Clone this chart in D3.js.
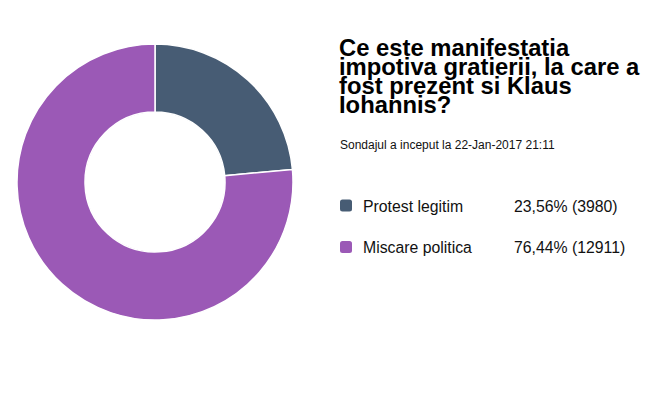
<!DOCTYPE html>
<html>
<head>
<meta charset="utf-8">
<script src="https://cdn.jsdelivr.net/npm/d3@7"></script>
<style>
  body { margin: 0; background: #fff; }
  text { font-family: "Liberation Sans", Arial, sans-serif; }
</style>
</head>
<body>
<div id="chart"></div>
<script>
// poll answers
const answers = ['Protest legitim', 'Miscare politica'];
const votes = [3980, 12911];
const colors = ['#475c74', '#9b59b6'];

const titleLines = ['Ce este manifestatia', 'impotiva gratierii, la care a', 'fost prezent si Klaus', 'Iohannis?'];
const subtitle = 'Sondajul a inceput la 22-Jan-2017 21:11';

const width = 671;
const height = 395;

const svg = d3.select('#chart')
  .append('svg')
  .attr('width', width)
  .attr('height', height);

// donut
const data = answers.map((a, i) => ({ name: a, value: votes[i], color: colors[i] }));
const total = d3.sum(votes);

const pie = d3.pie().value(d => d.value).sort(null);
const arc = d3.arc().innerRadius(70).outerRadius(138);

const donut = svg.append('g')
  .attr('transform', 'translate(155, 182)');

donut.selectAll('path')
  .data(pie(data))
  .join('path')
  .attr('d', arc)
  .attr('fill', d => d.data.color)
  .attr('stroke', '#fff')
  .attr('stroke-width', 1.5);

// title - tight line height like the original
const title = svg.append('text')
  .attr('font-size', 23.8)
  .attr('font-weight', 'bold')
  .attr('fill', '#000');

title.selectAll('tspan')
  .data(titleLines)
  .join('tspan')
  .attr('x', 339)
  .attr('y', (d, i) => 56 + i * 18.9)
  .text(d => d);

svg.append('text')
  .attr('x', 340)
  .attr('y', 149)
  .attr('font-size', 12)
  .attr('fill', '#111')
  .text(subtitle);

// legend
const pct = d3.format('.2f');
const legend = svg.selectAll('.legend')
  .data(data)
  .join('g')
  .attr('class', 'legend')
  .attr('transform', (d, i) => `translate(340, ${205.5 + i * 41.5})`);

legend.append('rect')
  .attr('x', 0)
  .attr('y', -6)
  .attr('width', 12)
  .attr('height', 12)
  .attr('rx', 2.5)
  .attr('fill', d => d.color);

legend.append('text')
  .attr('x', 23)
  .attr('y', 6)
  .attr('font-size', 15.8)
  .attr('fill', '#111')
  .text(d => d.name);

legend.append('text')
  .attr('x', 174)
  .attr('y', 6)
  .attr('font-size', 15.8)
  .attr('fill', '#111')
  .text(d => pct(d.value / total * 100).replace('.', ',') + '% (' + d.value + ')');
</script>
</body>
</html>
